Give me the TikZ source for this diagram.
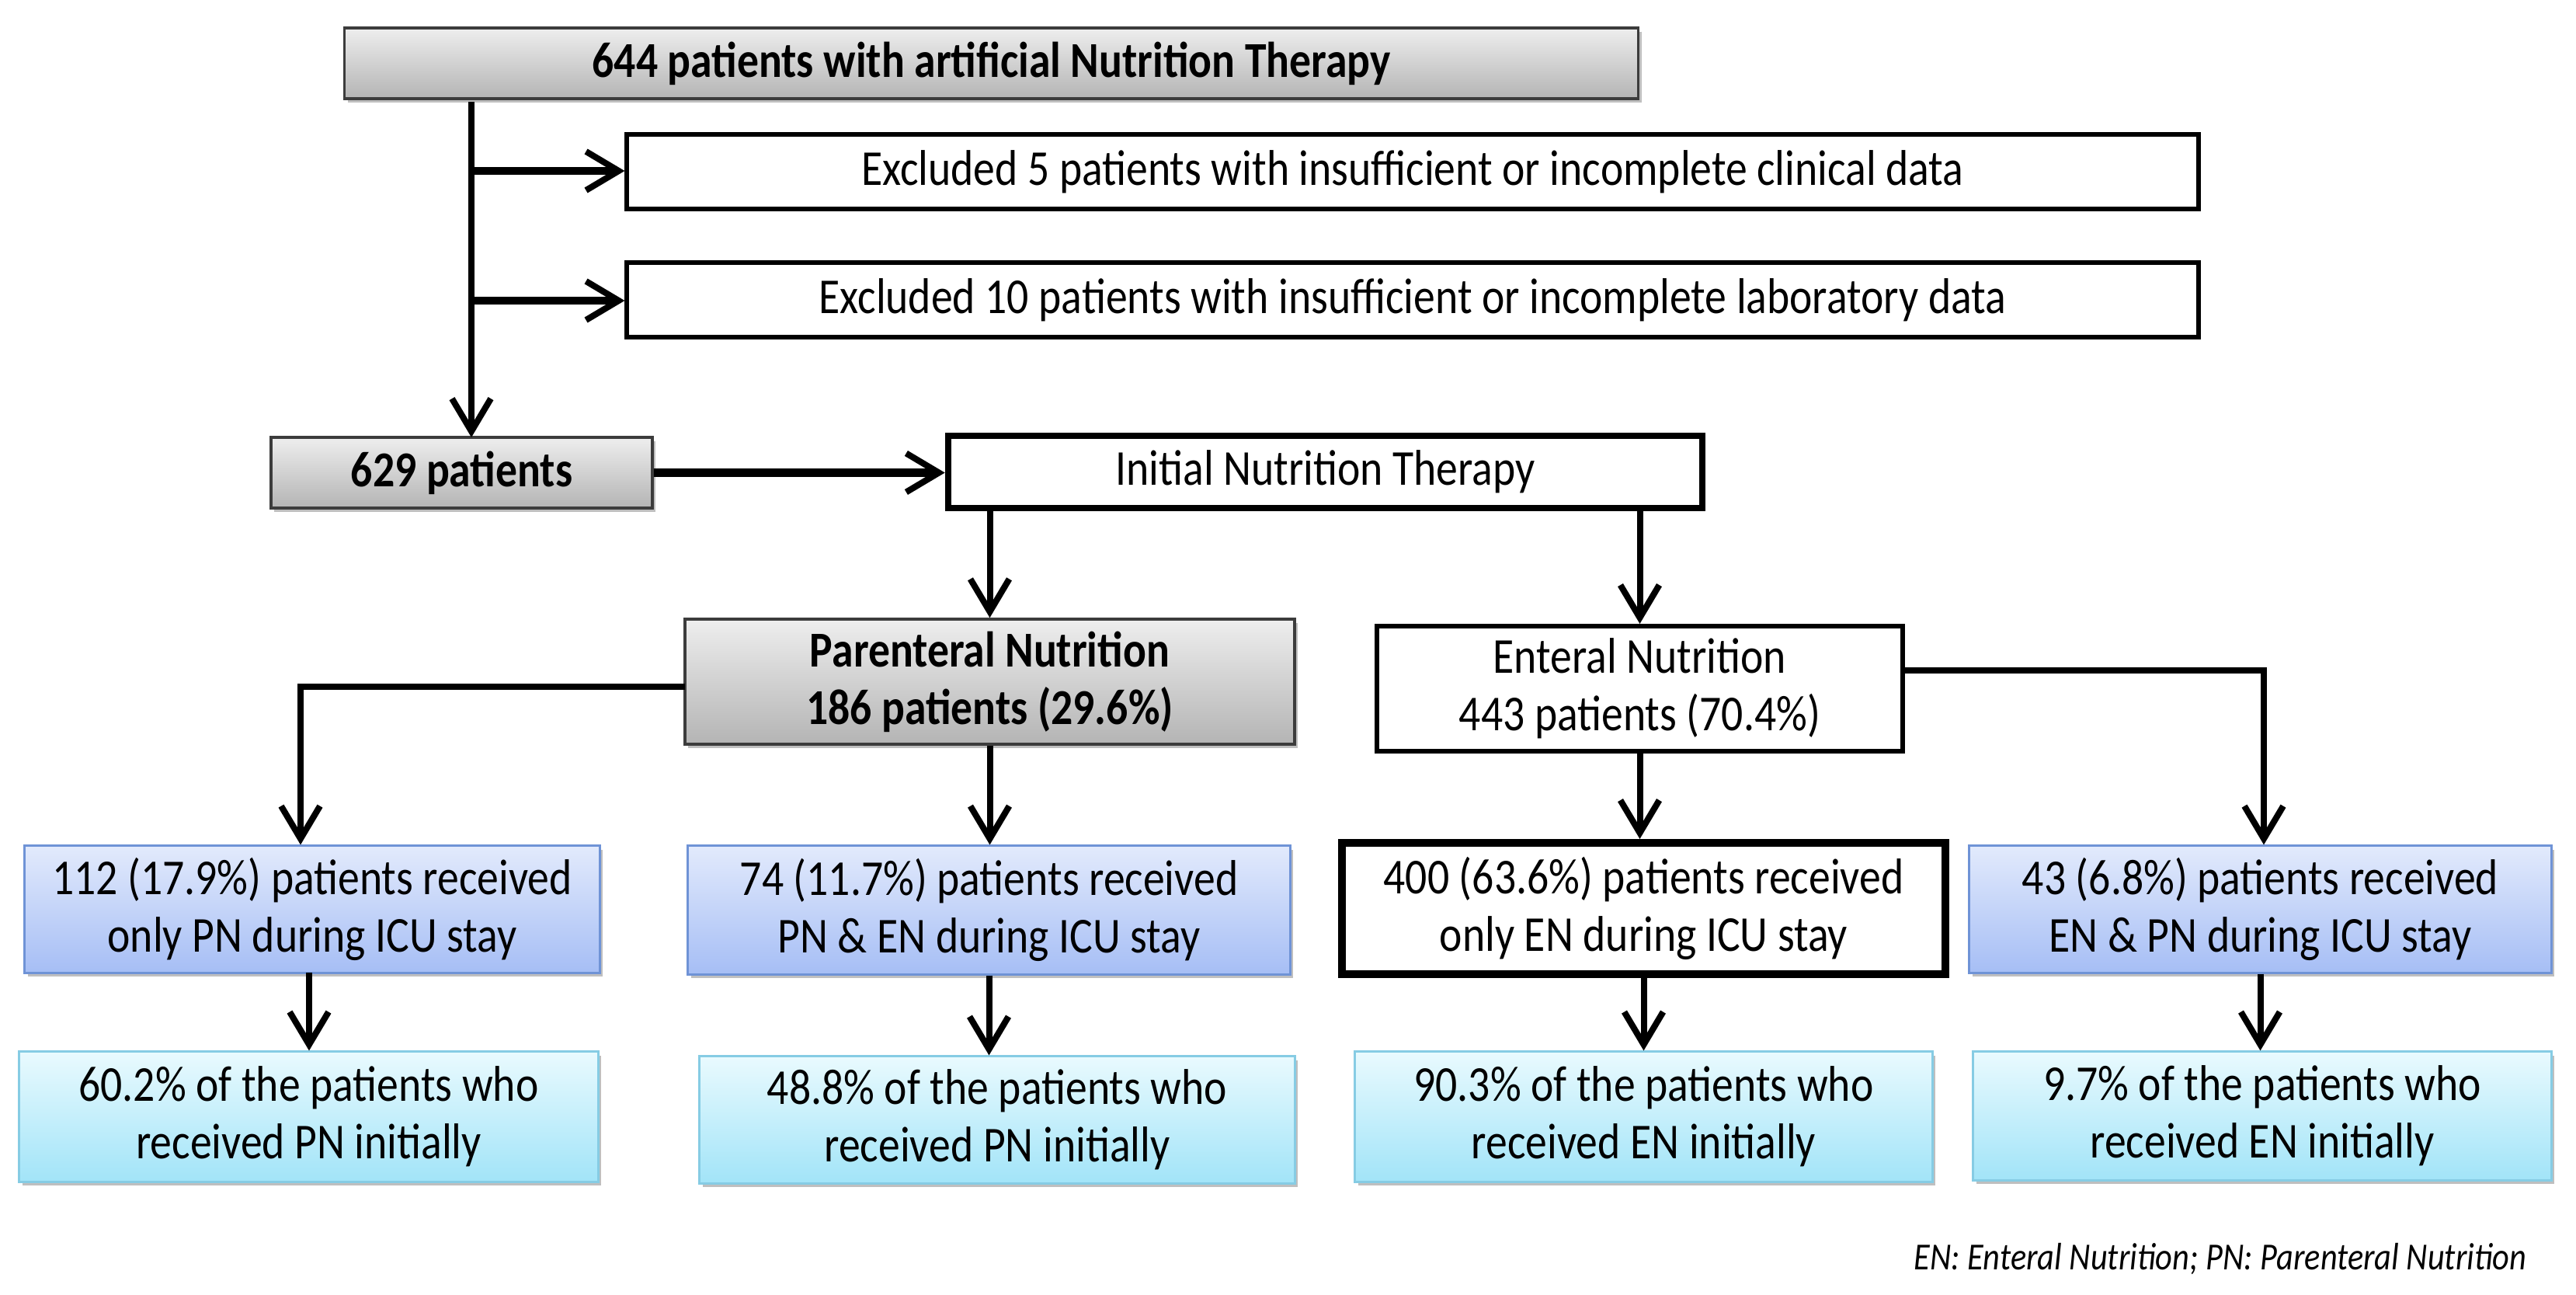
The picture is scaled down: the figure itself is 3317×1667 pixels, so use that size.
\documentclass[tikz,border=0pt]{standalone}
\usepackage{fontspec}
\setmainfont{Carlito}[FakeStretch=0.86]
\usetikzlibrary{arrows.meta,shadows}
\definecolor{grayTop}{HTML}{EEEEEE}
\definecolor{grayBot}{HTML}{B4B4B4}
\definecolor{grayLine}{HTML}{3C3C3C}
\definecolor{blueTop}{HTML}{E2EAFC}
\definecolor{blueBot}{HTML}{A6BEF5}
\definecolor{blueLine}{HTML}{6F93D6}
\definecolor{cyanTop}{HTML}{E9FAFE}
\definecolor{cyanBot}{HTML}{A2E4F8}
\definecolor{cyanLine}{HTML}{86CCE4}
\tikzset{
  base/.style={rectangle, align=center, inner sep=0pt, font=\fontsize{18.4pt}{21pt}\selectfont},
  shad/.style={drop shadow={shadow xshift=0.04cm, shadow yshift=-0.05cm, opacity=0.25, fill=black}},
  graybox/.style={base, shad, draw=grayLine, line width=0.035cm, top color=grayTop, bottom color=grayBot, font=\fontsize{18.4pt}{21pt}\selectfont\bfseries},
  bluebox/.style={base, shad, draw=blueLine, line width=0.03cm, top color=blueTop, bottom color=blueBot},
  cyanbox/.style={base, shad, draw=cyanLine, line width=0.03cm, top color=cyanTop, bottom color=cyanBot},
  whitebox/.style={base, draw=black, fill=white, line width=0.06cm},
  conn/.style={line width=0.08cm, -{Straight Barb[length=0.42cm, width=0.5cm, line width=0.08cm]}},
  seg/.style={line width=0.08cm},
}
\begin{document}
\begin{tikzpicture}[x=0.01cm, y=-0.01cm]
\useasboundingbox (0,0) rectangle (3317,1667);

\node[graybox, minimum width=16.65cm, minimum height=0.91cm] (top) at (1276.5,81.5) {644 patients with artificial Nutrition Therapy};
\node[whitebox, minimum width=20.22cm, minimum height=0.96cm] (ex1) at (1819,221) {Excluded 5 patients with insufficient or incomplete clinical data};
\node[whitebox, minimum width=20.22cm, minimum height=0.96cm] (ex2) at (1819,386) {Excluded 10 patients with insufficient or incomplete laboratory data};
\node[graybox, minimum width=4.91cm, minimum height=0.91cm] (p629) at (594.5,608.5) {629 patients};
\node[whitebox, line width=0.08cm, minimum width=9.71cm, minimum height=0.93cm] (init) at (1706.5,607.5) {Initial Nutrition Therapy};
\node[graybox, minimum width=7.85cm, minimum height=1.61cm] (pn) at (1274.5,877.5) {Parenteral Nutrition\\186 patients (29.6\%)};
\node[whitebox, minimum width=6.77cm, minimum height=1.61cm] (en) at (2111.5,886.5) {Enteral Nutrition\\443 patients (70.4\%)};

\node[bluebox, minimum width=7.40cm, minimum height=1.63cm] (b1) at (402,1170.5) {112 (17.9\%) patients received\\only PN during ICU stay};
\node[bluebox, minimum width=7.75cm, minimum height=1.65cm] (b2) at (1273.5,1171.5) {74 (11.7\%) patients received\\PN \& EN during ICU stay};
\node[whitebox, line width=0.1cm, minimum width=7.77cm, minimum height=1.69cm] (b3) at (2116.5,1169.5) {400 (63.6\%) patients received\\only EN during ICU stay};
\node[bluebox, minimum width=7.49cm, minimum height=1.63cm] (b4) at (2910.5,1170.5) {43 (6.8\%) patients received\\EN \& PN during ICU stay};

\node[cyanbox, minimum width=7.45cm, minimum height=1.67cm] (c1) at (397.5,1437.5) {60.2\% of the patients who\\received PN initially};
\node[cyanbox, minimum width=7.66cm, minimum height=1.63cm] (c2) at (1284,1441.5) {48.8\% of the patients who\\received PN initially};
\node[cyanbox, minimum width=7.43cm, minimum height=1.67cm] (c3) at (2116.5,1437.5) {90.3\% of the patients who\\received EN initially};
\node[cyanbox, minimum width=7.44cm, minimum height=1.65cm] (c4) at (2913,1436.5) {9.7\% of the patients who\\received EN initially};

\node[anchor=base east, inner sep=0pt, font=\fontsize{14pt}{16pt}\selectfont\itshape] (note) at (3254,1634) {EN: Enteral Nutrition; PN: Parenteral Nutrition};

% connectors
\coordinate (vtop) at (607,131);
\coordinate (j1) at (607,220);
\coordinate (j2) at (607,387);
\coordinate (vbot) at (607,563);
\draw[seg] (vtop) -- (j2);
\draw[conn] (j2) -- (vbot);
\draw[conn, line width=0.1cm] (j1) -- (ex1.west |- j1);
\draw[conn, line width=0.1cm] (j2) -- (ex2.west |- j2);
\draw[conn, line width=0.11cm] (p629.east) -- (init.west |- p629.east);
\draw[conn] (init.south -| pn.north) -- (pn.north);
\draw[conn] (init.south -| en.north) -- (en.north);
\coordinate (pnl) at (882,884);
\coordinate (pnd) at (387,884);
\draw[conn] (pnl) -- (pnd) -- (pnd |- b1.north);
\draw[conn] (pn.south) -- (pn.south |- b2.north);
\coordinate (enr) at (2450,863);
\coordinate (end) at (2915,863);
\draw[conn] (enr) -- (end) -- (end |- b4.north);
\draw[conn] (en.south) -- (en.south |- b3.north);
\coordinate (b1d) at (398,1252);
\draw[conn] (b1d) -- (b1d |- c1.north);
\draw[conn] (b2.south) -- (b2.south |- c2.north);
\draw[conn] (b3.south) -- (b3.south |- c3.north);
\draw[conn] (b4.south) -- (b4.south |- c4.north);
\end{tikzpicture}
\end{document}
